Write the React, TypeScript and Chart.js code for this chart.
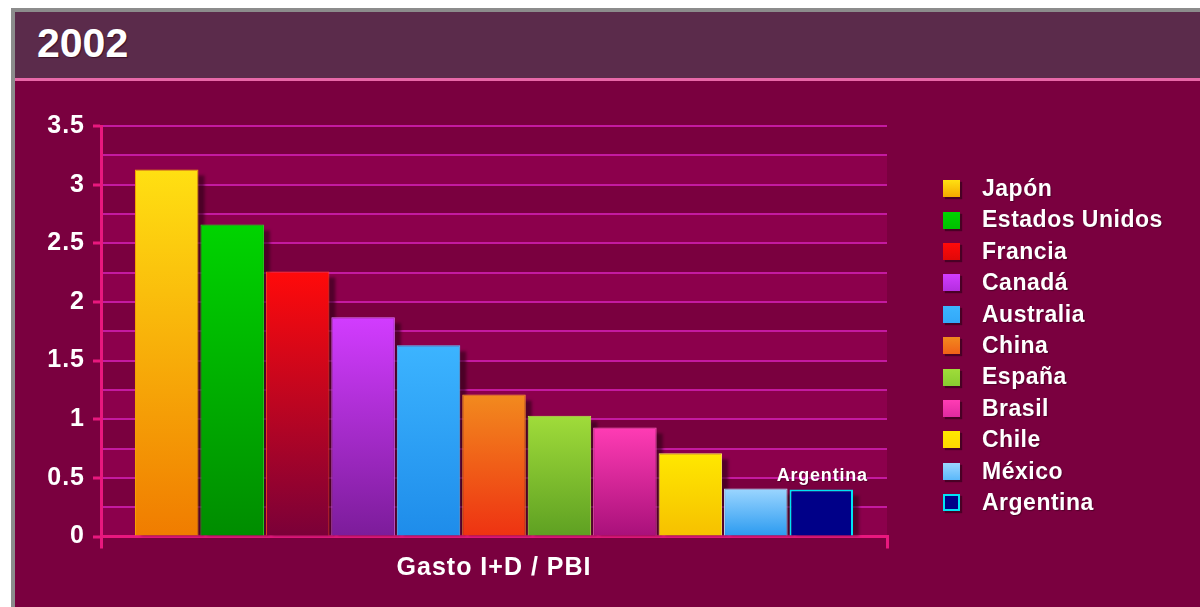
import React, { useEffect, useRef } from 'react';
import { Chart, registerables } from 'chart.js';

Chart.register(...registerables);

// ---- data ----
const title = '2002';
const categoryLabels = ['Gasto I+D / PBI'];
const countries = ['Japón', 'Estados Unidos', 'Francia', 'Canadá', 'Australia', 'China', 'España', 'Brasil', 'Chile', 'México', 'Argentina'];
const values = [3.13, 2.66, 2.26, 1.87, 1.63, 1.21, 1.03, 0.93, 0.71, 0.41, 0.40];
const highlighted = 'Argentina';
const yMin = 0;
const yMax = 3.5;
const gridStep = 0.25;
const labelStep = 0.5;

// ---- styles ----
const topColors = ['#ffe012', '#00d400', '#ff0a0a', '#d23cff', '#3cb4ff', '#f28a1e', '#a0dc3a', '#ff3cb4', '#ffe800', '#9cd6ff', '#000088'];
const bottomColors = ['#f07c00', '#008c00', '#7a0038', '#7c1c9a', '#1e8cea', '#ee3212', '#5ea022', '#a8107a', '#f6c000', '#2a9af0', '#000088'];
const borderColors = ['#f6a000', '#22e022', '#ff4a20', '#e070ff', '#60c4ff', '#ff9a30', '#b8ee50', '#ff60c0', '#fff060', '#c0e6ff', '#00e4f4'];
const legendColors = ['#f4a800', '#00c000', '#e00808', '#b42ee0', '#32a8f8', '#f06018', '#88cc30', '#e02aa0', '#ffd800', '#5ab8fa', '#000088'];

const FONT = '"Liberation Sans", Arial, Helvetica, sans-serif';
const AXIS = '#e8187e';
const GRID = '#c41aa0';
const BAND = '#8c004c';
const BODY = '#7a003f';
const HEADER = '#5b2b4b';

const bandsPlugin = {
  id: 'bands',
  beforeUpdate(chart: any) {
    chart.ctx.letterSpacing = '1px';
  },
  beforeDraw(chart: any) {
    const { ctx, chartArea: a, scales } = chart;
    const y = scales.y;
    ctx.letterSpacing = '1px';
    ctx.save();
    ctx.fillStyle = BAND;
    for (let v = yMin; v < yMax - 1e-9; v += labelStep) {
      const t = y.getPixelForValue(v + gridStep);
      const b = y.getPixelForValue(v);
      ctx.fillRect(a.left, t, a.right - a.left, b - t);
    }
    ctx.restore();
  },
};

const shadowPlugin = {
  id: 'barShadow',
  beforeDatasetsDraw(chart: any) {
    const ctx = chart.ctx;
    ctx.save();
    ctx.fillStyle = 'rgba(45,0,22,0.6)';
    ctx.filter = 'blur(1.5px)';
    chart.data.datasets.forEach((_: any, i: number) => {
      const meta = chart.getDatasetMeta(i);
      meta.data.forEach((el: any) => {
        const p = el.getProps(['x', 'y', 'base', 'width'], true);
        const h = p.base - p.y - 6;
        if (h > 0) ctx.fillRect(p.x - p.width / 2 + 6, p.y + 6, p.width, h);
      });
    });
    ctx.restore();
  },
};

const highlightPlugin = {
  id: 'highlightLabel',
  afterDatasetsDraw(chart: any) {
    const idx = countries.indexOf(highlighted);
    const el = chart.getDatasetMeta(idx).data[0];
    if (!el) return;
    const ctx = chart.ctx;
    ctx.save();
    ctx.font = `bold 18px ${FONT}`;
    ctx.letterSpacing = '0.8px';
    ctx.textAlign = 'center';
    ctx.textBaseline = 'alphabetic';
    ctx.fillStyle = '#ffffff';
    ctx.shadowColor = 'rgba(60,0,30,0.6)';
    ctx.shadowOffsetX = 1;
    ctx.shadowOffsetY = 1;
    ctx.fillText(highlighted, el.x + 1, el.y - 9);
    ctx.restore();
  },
};

function barGradient(c: any, i: number) {
  const chart = c.chart;
  if (!chart.chartArea || c.raw === undefined) return topColors[i];
  const y = chart.scales.y;
  const g = chart.ctx.createLinearGradient(0, y.getPixelForValue(c.raw), 0, y.getPixelForValue(0));
  g.addColorStop(0, topColors[i]);
  g.addColorStop(1, bottomColors[i]);
  return g;
}

export default function App() {
  const ref = useRef<HTMLCanvasElement>(null);

  useEffect(() => {
    if (!ref.current) return;
    const last = countries.length - 1;
    const chart = new Chart(ref.current, {
      type: 'bar',
      data: {
        labels: categoryLabels,
        datasets: countries.map((name, i) => ({
          label: name,
          data: [values[i]],
          backgroundColor: (c: any) => barGradient(c, i),
          borderColor: borderColors[i],
          borderWidth: i === last ? 2 : 1,
          categoryPercentage: 0.916,
          barPercentage: 0.97,
        })),
      },
      options: {
        responsive: false,
        animation: false,
        layout: { padding: { left: 0, top: 126, right: 313, bottom: 0 } },
        plugins: { legend: { display: false }, tooltip: { enabled: false } },
        scales: {
          x: {
            grid: { display: true, drawOnChartArea: false, offset: true, tickLength: 12, color: AXIS, lineWidth: 3 },
            border: { display: true, color: AXIS, width: 3 },
            ticks: { color: '#ffffff', font: { family: FONT, size: 25, weight: 'bold' }, padding: 5 },
            afterFit: (s: any) => { s.height = 70.5; },
          },
          y: {
            min: yMin,
            max: yMax,
            grid: {
              color: GRID,
              lineWidth: 2,
              tickLength: 8,
              tickWidth: 3,
              tickColor: (c: any) => {
                const v = c.tick ? c.tick.value : 0;
                return Math.abs(v / labelStep - Math.round(v / labelStep)) < 1e-6 ? AXIS : 'rgba(0,0,0,0)';
              },
            },
            border: { display: true, color: AXIS, width: 3 },
            ticks: {
              stepSize: gridStep,
              autoSkip: false,
              color: '#ffffff',
              padding: 8,
              font: { family: FONT, size: 25, weight: 'bold' },
              callback: (v: any) => (Math.abs(v / labelStep - Math.round(v / labelStep)) < 1e-6 ? String(v) : ''),
            },
            afterFit: (s: any) => { s.width = 101; },
          },
        },
      },
      plugins: [bandsPlugin, shadowPlugin, highlightPlugin],
    } as any);
    return () => chart.destroy();
  }, []);

  return (
    <div>
      <div style={{ position: 'fixed', left: 11, top: 8, right: 0, bottom: 0, background: '#8c8c8c' }} />
      <div style={{ position: 'fixed', left: 15, top: 12, right: 0, height: 66, background: HEADER }} />
      <div style={{ position: 'fixed', left: 15, top: 78, right: 0, height: 3, background: '#e868a8' }} />
      <div style={{ position: 'fixed', left: 15, top: 81, right: 0, bottom: 0, background: BODY }} />
      <div
        style={{
          position: 'fixed', left: 37, top: 23, fontFamily: FONT, fontWeight: 'bold', fontSize: 41,
          lineHeight: '41px', color: '#ffffff', textShadow: '1px 1px 1px rgba(40,0,20,0.6)',
        }}
      >
        {title}
      </div>
      <canvas ref={ref} width={1200} height={607} style={{ position: 'fixed', left: 0, top: 0, width: 1200, height: 607 }} />
      <div style={{ position: 'fixed', left: 943, top: 173, fontFamily: FONT }}>
        {countries.map((name, i) => (
          <div key={name} style={{ display: 'flex', alignItems: 'center', height: 31.4 }}>
            <div
              style={{
                width: i === countries.length - 1 ? 13 : 17,
                height: i === countries.length - 1 ? 13 : 17,
                background: i === countries.length - 1 ? legendColors[i] : `linear-gradient(${topColors[i]}, ${legendColors[i]})`,
                border: i === countries.length - 1 ? '2px solid #00e4f4' : 'none',
                boxShadow: '2px 2px 1px rgba(40,0,20,0.6)',
                marginRight: 22,
                flex: 'none',
              }}
            />
            <span
              style={{
                color: '#ffffff', fontWeight: 'bold', fontSize: 23, lineHeight: '31.4px', letterSpacing: 0.5,
                whiteSpace: 'nowrap', textShadow: '1px 1px 1px rgba(40,0,20,0.5)',
              }}
            >
              {name}
            </span>
          </div>
        ))}
      </div>
    </div>
  );
}
